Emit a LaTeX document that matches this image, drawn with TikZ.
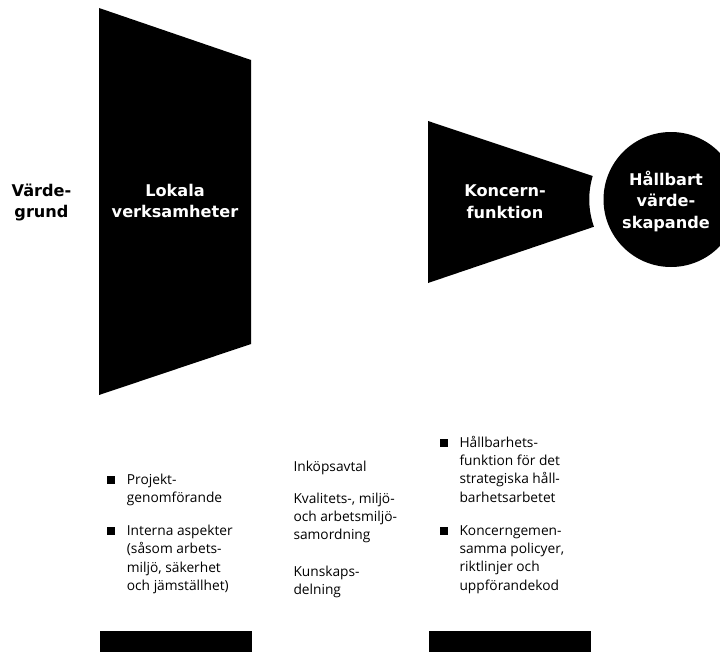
\documentclass[tikz,border=0pt]{standalone}
\usepackage{fontspec}
\setmainfont{Open Sans}
\newfontfamily\tfont{DejaVu Sans}
\newcommand\stkL[1]{\begin{tabular}[t]{@{}l@{}}#1\end{tabular}}
\newcommand\stkC[1]{\begin{tabular}[t]{@{}c@{}}#1\end{tabular}}
\begin{document}
\begin{tikzpicture}[x=1bp,y=-1bp,
  title/.style={anchor=base, inner sep=0pt, font=\tfont\bfseries\fontsize{16.2}{22}\selectfont},
  body/.style={anchor=base west, inner sep=0pt, font=\fontsize{13.8}{18.5}\selectfont},
  sq/.style={fill=black, inner sep=0pt, minimum size=8bp}]
\useasboundingbox (0,0) rectangle (720,652);
% shapes
\fill[black] (99,8) -- (251,60) -- (251,344) -- (99,395) -- cycle;
\fill[black] (428,121) -- (592.7,176) arc[start angle=196.7,end angle=160.5,radius=81.7] -- (428,283) -- cycle;
\begin{scope}
  \clip (0,0) rectangle (720,652);
  \fill[black] (671,199.5) circle[radius=67.5];
\end{scope}
\fill[black] (100,631) rectangle (252,652);
\fill[black] (428.5,631) rectangle (591,652);
% titles
\node[title] (vg) at (41.5,196) {\stkC{Värde-\\grund}};
\node[title,text=white] (lv) at (175,196) {\stkC{Lokala\\verksamheter}};
\node[title,text=white] (kf) at (505,196.5) {\stkC{Koncern-\\funktion}};
\node[title,text=white] (hv) at (666,185) {\stkC{Hållbart\\värde-\\skapande}};
% left column
\node[sq] (b1) at (111,480) {};
\node[body] (t1) at (126.7,484) {\stkL{Projekt-\\genomförande}};
\node[sq] (b2) at (111,531) {};
\node[body] (t2) at (126.7,535.5) {\stkL{Interna aspekter\\(såsom arbets-\\miljö, säkerhet\\och jämställhet)}};
% middle column
\node[body] (m1) at (293.3,471.5) {Inköpsavtal};
\node[body] (m2) at (293.3,503) {\stkL{Kvalitets-, miljö-\\och arbetsmiljö-\\samordning}};
\node[body] (m3) at (293.3,576) {\stkL{Kunskaps-\\delning}};
% right column
\node[sq] (b3) at (443.5,443) {};
\node[body] (r1) at (459.3,447) {\stkL{Hållbarhets-\\funktion för det\\strategiska håll-\\barhetsarbetet}};
\node[sq] (b4) at (443.5,531) {};
\node[body] (r2) at (459.3,535) {\stkL{Koncerngemen-\\samma policyer,\\riktlinjer och\\uppförandekod}};
\end{tikzpicture}
\end{document}
